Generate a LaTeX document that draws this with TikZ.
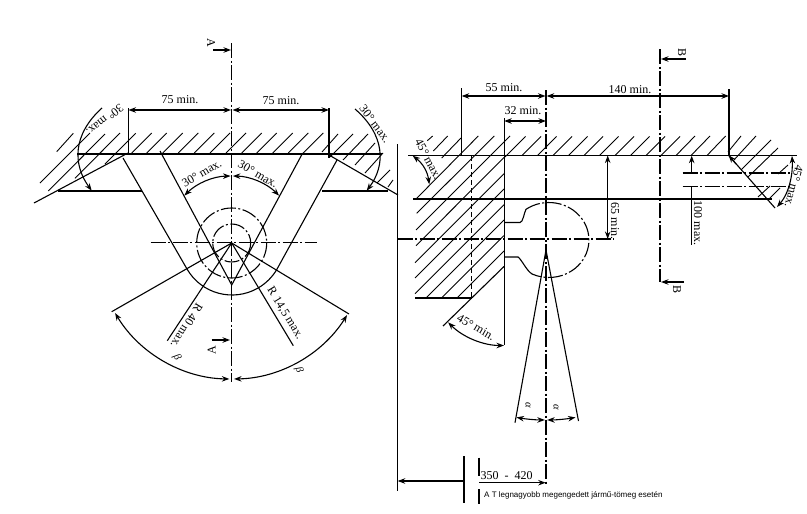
\documentclass[tikz,border=0pt]{standalone}
\usepackage{fontspec}
\setmainfont{Liberation Serif}
\newfontfamily\capfont{Liberation Sans}
\usetikzlibrary{arrows.meta}
\tikzset{
  part/.style={line width=1.1pt},
  hatch/.style={line width=0.9pt},
  centerline/.style={line width=1.1pt,dash pattern=on 15pt off 2.5pt on 2pt off 2.5pt},
  hiddenline/.style={line width=1.1pt,dash pattern=on 5pt off 3pt},
  dimline/.style={line width=1.1pt,{Stealth[length=7.5pt,width=5.5pt]}-{Stealth[length=7.5pt,width=5.5pt]}},
  leader/.style={line width=1.1pt,-{Stealth[length=7.5pt,width=5.5pt]}},
  lbl/.style={inner sep=0pt,font=\fontsize{12}{14}\selectfont},
  greek/.style={inner sep=0pt,font=\fontsize{10.5}{12}\selectfont\itshape}
}
\begin{document}
\begin{tikzpicture}[x=1pt,y=-1pt]
      \useasboundingbox (0,0) rectangle (807,514);
      \coordinate (hub) at (231.7,243);
      \coordinate (tip) at (231.7,285);
      \coordinate (apex) at (546,250);
      \coordinate (cham) at (504,266.5);
      % left view, wall and strip
      \begin{scope}[part]
        \draw (77,154) to (382,154);
        \draw (128.5,108) to (128.5,154);
        \draw (329,108) to (329,158);
        \draw (128,153) to (34,203);
        \draw (329,155) to (398,195);
        \draw (58,191) to (142,191);
        \draw (322,191) to (388,191);
        \draw (123,158) to (187,269) arc[start angle=150,end angle=30,radius=52] to (337,160);
        \draw (160,151) to (tip) to (302.7,153);
        \draw (hub) to (111.7,311.7);
        \draw (hub) to (349,314);
        \draw (hub) to (167.3,340.7);
        \draw (hub) to (293.3,345.7);
      \end{scope}
      \begin{scope}[hatch]
        \draw (73.3,133.3) to (56.7,151.7);
        \draw (90,133) to (40,183);
        \draw (105,134) to (48.3,191);
        \draw (120,133) to (75,178.3);
        \draw (135.7,133.3) to (105,164);
        \draw (151.7,133) to (131.7,153);
        \draw (166.7,133) to (146.7,153);
        \draw (182.7,133) to (162.7,153);
        \draw (198.3,133) to (178.3,153);
        \draw (214.3,133) to (194.3,153);
        \draw (230,133) to (210,153);
        \draw (246,133) to (226,153);
        \draw (261.7,133) to (241.7,153);
        \draw (276.7,133) to (256.7,153);
        \draw (292.7,133) to (272.7,153);
        \draw (308.3,133) to (288.3,153);
        \draw (323.3,133) to (303.3,153);
        \draw (338,134) to (322,152);
        \draw (353,134) to (330,157);
        \draw (368,134) to (343,160);
        \draw (375,143) to (355,165);
        \draw (383,153) to (365,173);
        \draw (390,170) to (377,183);
        \draw (393,180) to (388,187);
      \end{scope}
      % left view, centre lines
      \begin{scope}[centerline]
        \draw (231.7,43) to (231.7,382);
        \draw (150.7,242.5) to (316.7,242.5);
        \draw ([shift={(0:35)}]hub) arc[start angle=0,end angle=360,radius=35];
        \draw ([shift={(0:19)}]hub) arc[start angle=0,end angle=360,radius=19];
      \end{scope}
      % left view, dimensions
      \draw[dimline] (128.5,110) to (231,110);
      \draw[dimline] (232.5,110) to (329,110);
      \draw[dimline] ([shift={(-135:67)}]hub) arc[start angle=-135,end angle=-91,radius=67];
      \draw[dimline] ([shift={(-45:67)}]hub) arc[start angle=-45,end angle=-89,radius=67];
      \draw[dimline] ([shift={(149:136)}]hub) arc[start angle=149,end angle=91,radius=136];
      \draw[dimline] ([shift={(32:136)}]hub) arc[start angle=32,end angle=89,radius=136];
      \draw[leader] (102,108) .. controls (72,135) and (73,165) .. (91.7,190.7);
      \draw[leader] (355,109) .. controls (385,135) and (386,165) .. (366.7,190.7);
      \draw[leader] (213,50) to (231,50);
      \draw[leader] (211.7,340) to (230,340);
      \draw
        (180,100) node[lbl] (dimA){75 min.}
        (281,101) node[lbl] (dimB){75 min.}
        (201.7,173) node[lbl,rotate=30] (angA){30° max.}
        (258,174) node[lbl,rotate=-30] (angB){30° max.}
        (105,120) node[lbl,rotate=218] (angC){30° max.}
        (375,124) node[lbl,rotate=-53] (angD){30° max.}
        (186.7,326) node[lbl,rotate=-122] (radA){R 40 max.}
        (285,313.3) node[lbl,rotate=-58.5] (radB){R 14,5 max.}
        (211,43) node[lbl,rotate=-90] (secA){A}
        (211.7,350) node[lbl,rotate=90] (secB){A}
        (177,357.5) node[greek,rotate=-60] (betaA){β}
        (299,370) node[greek,rotate=-70] (betaB){β};
      % right view, wall and block
      \begin{scope}[part]
        \draw (408,155.5) to (797,155.5);
        \draw (413,199) to (772,199);
        \draw (397.7,144) to (397.7,491);
        \draw (461.7,88) to (461.7,155);
        \draw (729,89) to (729,155);
        \draw (504.2,118) to (504.2,345);
        \draw (415,298) to (471.7,298);
        \draw (cham) to (443,326);
        \draw (728.3,155) to (775,208);
        \draw (691.7,187) to (691.7,245);
        \draw (apex) to (515,422.7);
        \draw (apex) to (578.5,421);
        \draw (504.2,222.5) to (520,222.5) .. controls (523,222.5) and (524,213) .. (526,209.3);
        \draw (504.2,257) to (518,257) .. controls (522,260) and (526,270) .. (532,274);
        \draw (464,456) to (464,503);
        \draw (479,457.7) to (479,475.7);
        \draw (479,489) to (479,504);
      \end{scope}
      \begin{scope}[hatch]
        \draw (432.7,136) to (427.3,140.7);
        \draw (447.7,136) to (433.3,151);
        \draw (461,138) to (441.7,158);
        \draw (478.3,136) to (416.7,198.3);
        \draw (494.3,136) to (416.7,213.3);
        \draw (510,136) to (416,230);
        \draw (525.6,136.5) to (505,157);
        \draw (504,157.5) to (416,245.7);
        \draw (541,136.5) to (522,155.5);
        \draw (504,173.7) to (415,262.7);
        \draw (504,189) to (415,278);
        \draw (504,204.7) to (415,293.7);
        \draw (504,220) to (426,298);
        \draw (504,235.6) to (441.6,298);
        \draw (504,251) to (457,298);
        \draw (556.5,136.5) to (537.5,155.5);
        \draw (572,136.5) to (553,155.5);
        \draw (587.5,136.5) to (568.5,155.5);
        \draw (603,136.5) to (584,155.5);
        \draw (618.5,136.5) to (599.5,155.5);
        \draw (634,136.5) to (615,155.5);
        \draw (649.5,136.5) to (630.5,155.5);
        \draw (665,136.5) to (646,155.5);
        \draw (680,136.5) to (661,155.5);
        \draw (695,136) to (676,155.5);
        \draw (710,136) to (691,155.5);
        \draw (725.7,136) to (707,155.5);
        \draw (741,136) to (728,152);
        \draw (756,136) to (733,161);
        \draw (771,140) to (741,170);
        \draw (778,148) to (748,177);
        \draw (788,165) to (778,174);
        \draw (770,186) to (758,197);
        \draw (780,188) to (768,200);
      \end{scope}
      % right view, centre lines
      \begin{scope}[centerline]
        \draw (546,90) to (546,485);
        \draw (660,49) to (660,282);
        \draw (397.7,239) to (614,239);
        \draw (682.7,173) to (790,173);
        \draw (682.7,186.7) to (790,186.7);
        \draw (526,209.3) arc[start angle=-125,end angle=115,x radius=40,y radius=37.5];
      \end{scope}
      \draw[hiddenline] (471.7,156) to (471.7,298);
      % right view, dimensions
      \draw[dimline] (461.7,96) to (545.5,96);
      \draw[dimline] (546.7,96) to (729,96);
      \draw[dimline] (504.2,121) to (546,121);
      \draw[dimline] (607.7,155.5) to (607.7,239);
      \draw[dimline] (412.7,155.7) to[bend left=22] (429.3,184.3);
      \draw[dimline] (792,156) .. controls (793,172) and (790,192) .. (777,207);
      \draw[dimline] ([shift={(135:79)}]cham) arc[start angle=135,end angle=90,radius=79];
      \draw[dimline] ([shift={(100:170)}]apex) arc[start angle=100,end angle=90.4,radius=170];
      \draw[dimline] ([shift={(80:170)}]apex) arc[start angle=80,end angle=89.6,radius=170];
      \draw[leader] (691.7,173.3) to (691.7,155.7);
      \draw[leader] (736,164) to (728.6,155.3);
      \draw[leader] (686,59) to (661,59);
      \draw[leader] (684,282) to (661,282);
      \draw[leader] (464,481) to (397.7,481);
      \draw[leader] (479,482.7) to (545.7,482.7);
      \draw
        (504,88) node[lbl] (dimC){55 min.}
        (630,89.5) node[lbl] (dimD){140 min.}
        (523,111) node[lbl] (dimE){32 min.}
        (615,221) node[lbl,rotate=-90] (dimF){65 min.}
        (698,223) node[lbl,rotate=-90] (dimG){100 max.}
        (428.3,159) node[lbl,rotate=-62] (angE){45° max.}
        (794,186) node[lbl,rotate=-105] (angF){45° max.}
        (476,327) node[lbl,rotate=-30] (angG){45° min.}
        (682,53) node[lbl,rotate=-90] (secC){B}
        (677,289) node[lbl,rotate=-90] (secD){B}
        (528,405) node[greek,rotate=-90] (alphaA){α}
        (556,407) node[greek,rotate=-90] (alphaB){α}
        (506.7,476) node[lbl] (dimH){350\ \ -\ \ 420}
        (484,495) node[anchor=west,inner sep=0pt,font=\fontsize{8}{9}\capfont] (capA){A T legnagyobb megengedett jármű-tömeg esetén};
    \end{tikzpicture}
\end{document}
